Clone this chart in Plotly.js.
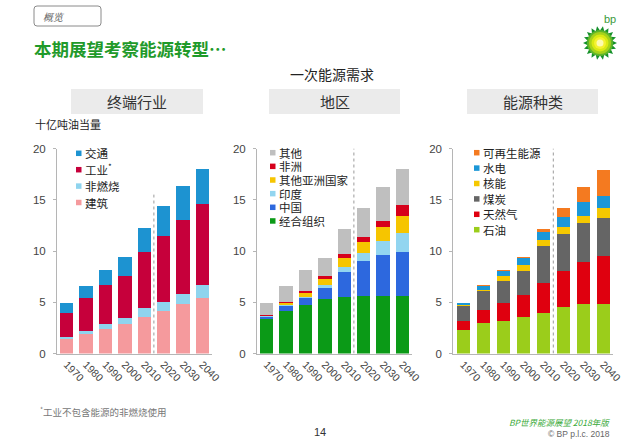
<!DOCTYPE html>
<html><head><meta charset="utf-8">
<script src="https://cdn.plot.ly/plotly-3.0.1.min.js"></script>
<style>html,body{margin:0;padding:0;background:#fff;}#chart{width:640px;height:443px;}</style>
</head><body><div id="chart"></div>
<script>
// ---------- data ----------
const years = ['1970','1980','1990','2000','2010','2020','2030','2040'];
const yTicks = [0,5,10,15,20];

// 终端行业 (bottom -> top)
const sectorNames = ['建筑','非燃烧','工业<sup>*</sup>','交通'];
const buildings    = [1.4,1.9,2.4,2.85,3.6,4.1,4.8,5.45];
const nonCombust   = [0.2,0.3,0.5,0.6,0.8,0.95,1.05,1.25];
const industry     = [2.4,3.25,3.75,4.15,5.5,6.4,7.2,7.85];
const transport    = [0.9,1.15,1.5,1.85,2.35,2.9,3.3,3.45];

// 地区 (bottom -> top)
const regionNames = ['经合组织','中国','印度','其他亚洲国家','非洲','其他'];
const oecd         = [3.4,4.15,4.7,5.35,5.55,5.65,5.65,5.6];
const china        = [0.15,0.45,0.7,1.0,2.45,3.35,3.95,4.3];
const india        = [0.1,0.15,0.15,0.3,0.45,0.85,1.4,1.9];
const otherAsia    = [0.05,0.15,0.4,0.6,0.9,1.05,1.35,1.65];
const africa       = [0.05,0.1,0.15,0.3,0.4,0.5,0.6,1.05];
const otherRegion  = [1.2,1.55,2.0,1.8,2.35,2.8,3.25,3.5];

// 能源种类 (bottom -> top)
const fuelNames = ['石油','天然气','煤炭','核能','水电','可再生能源'];
const oil          = [2.25,2.95,3.15,3.55,4.0,4.5,4.85,4.85];
const gas          = [0.9,1.25,1.8,2.15,2.85,3.55,4.1,4.7];
const coal         = [1.5,1.85,2.1,2.35,3.6,3.6,3.8,3.7];
const nuclear      = [0.05,0.15,0.5,0.55,0.6,0.65,0.7,0.95];
const hydro        = [0.25,0.4,0.5,0.7,0.8,1.05,1.3,1.15];
const renewables   = [0.0,0.05,0.05,0.1,0.25,0.85,1.5,2.6];

// ---------- styles ----------
const W = 640, H = 443;
const px = x => x / W;
const py = y => 1 - y / H;
const CJK = "'Liberation Sans', 'Noto Sans CJK SC', sans-serif";
const CJKONLY = "'Noto Sans CJK SC', sans-serif";

const panels = [
  {names: sectorNames, series: [buildings, nonCombust, industry, transport],
   colors: ['#f59a9d','#8fd4ee','#c6003b','#1d93d1'],
   x: [57, 212], ax: '', gap: 0.31, divTop: 15.5,
   legX: 76, legY: 153.3, legStep: 16.4},
  {names: regionNames, series: [oecd, china, india, otherAsia, africa, otherRegion],
   colors: ['#0b9a17','#2d68de','#92d5f0','#f6c500','#d6001b','#bfbfbf'],
   x: [257, 412], ax: '2', gap: 0.31, divTop: 20,
   legX: 270, legY: 152.7, legStep: 13.65},
  {names: fuelNames, series: [oil, gas, coal, nuclear, hydro, renewables],
   colors: ['#9bcd1b','#df000f','#656565','#f5c800','#1b97d7','#f47a20'],
   x: [453.3, 613.3], ax: '3', gap: 0.335, divTop: 20,
   legX: 474, legY: 152.7, legStep: 15.4}
];

const yDomain = [py(353.5), py(148.5)];
const traces = [];
const shapes = [];
const annotations = [];
const layout = {
  width: W, height: H, margin: {l:0, r:0, t:0, b:0},
  paper_bgcolor: '#ffffff', plot_bgcolor: 'rgba(0,0,0,0)',
  barmode: 'stack', showlegend: false,
  font: {family: CJK, color: '#333'}
};

panels.forEach(p => {
  const xa = 'x' + p.ax, ya = 'y' + p.ax;
  p.series.forEach((vals, i) => {
    traces.push({type: 'bar', x: years, y: vals, name: p.names[i],
      xaxis: xa, yaxis: ya, width: 1 - p.gap,
      marker: {color: p.colors[i], line: {width: 0}},
      hoverinfo: 'x+y+name'});
  });
  layout['xaxis' + p.ax] = {
    domain: [px(p.x[0]), px(p.x[1])], anchor: ya, type: 'category',
    range: [-0.5, 7.5], showline: true, linecolor: '#b5b5b5', linewidth: 1,
    ticks: '', tickangle: 45, showgrid: false, zeroline: false,
    tickfont: {family: 'Liberation Sans, Arial, sans-serif', size: 10.5, color: '#444'}
  };
  layout['yaxis' + p.ax] = {
    domain: yDomain, anchor: xa, range: [0, 20], tickvals: yTicks,
    showline: true, linecolor: '#b5b5b5', linewidth: 1,
    ticks: 'outside', ticklen: 3, tickcolor: '#b5b5b5',
    showgrid: false, zeroline: false, ticklabelstandoff: 5,
    tickfont: {family: 'Liberation Sans, Arial, sans-serif', size: 11.5, color: '#444'}
  };
  // history / outlook divider
  shapes.push({type: 'line', xref: xa, yref: ya, x0: 4.5, x1: 4.5, y0: 0, y1: p.divTop,
    line: {color: '#9a9a9a', width: 1, dash: 'dot'}});
  // legend (top entry = top of stack)
  const n = p.names.length;
  for (let k = 0; k < n; k++) {
    const i = n - 1 - k;
    const cy = p.legY + k * p.legStep;
    shapes.push({type: 'rect', xref: 'paper', yref: 'paper',
      x0: px(p.legX), x1: px(p.legX + 5.5), y0: py(cy + 2.75), y1: py(cy - 2.75),
      fillcolor: p.colors[i], line: {width: 0}});
    annotations.push({xref: 'paper', yref: 'paper', x: px(p.legX + 7.5), y: py(cy),
      xanchor: 'left', yanchor: 'middle', showarrow: false, text: p.names[i], borderpad: 0,
      font: {family: CJKONLY, size: 11.5, color: '#222'}});
  }
});

// ---------- page decorations ----------
// "概览" tab box (rounded)
(function(){
  const x0=34,x1=101,y0=6,y1=26,r=3;
  const P=(x,y)=>px(x)+','+py(y);
  shapes.push({type:'path', xref:'paper', yref:'paper',
    path:'M'+P(x0+r,y0)+' L'+P(x1-r,y0)+' Q'+P(x1,y0)+' '+P(x1,y0+r)+' L'+P(x1,y1-r)+' Q'+P(x1,y1)+' '+P(x1-r,y1)+
         ' L'+P(x0+r,y1)+' Q'+P(x0,y1)+' '+P(x0,y1-r)+' L'+P(x0,y0+r)+' Q'+P(x0,y0)+' '+P(x0+r,y0)+' Z',
    line:{color:'#8a8a8a', width:1}, fillcolor:'rgba(0,0,0,0)'});
})();
annotations.push({xref:'paper', yref:'paper', x:px(41), y:py(16), xanchor:'left', yanchor:'middle',
  showarrow:false, text:'<i>概览</i>', font:{family:CJKONLY, size:10, color:'#666'}});

// main title
annotations.push({xref:'paper', yref:'paper', x:px(32), y:py(48.5), xanchor:'left', yanchor:'middle',
  showarrow:false, text:'<b>本期展望考察能源转型…</b>',
  font:{family:CJKONLY, size:17.5, color:'#1f9a2a'}});

// section title
annotations.push({xref:'paper', yref:'paper', x:px(332), y:py(74), xanchor:'center', yanchor:'middle',
  showarrow:false, text:'一次能源需求', font:{family:CJKONLY, size:14, color:'#222'}});

// panel header boxes
const headers = [['终端行业', 71, 203], ['地区', 269, 400], ['能源种类', 467, 598]];
headers.forEach(h => {
  shapes.push({type:'rect', xref:'paper', yref:'paper', x0:px(h[1]), x1:px(h[2]), y0:py(114), y1:py(89),
    fillcolor:'#ebebeb', line:{width:0}, layer:'below'});
  annotations.push({xref:'paper', yref:'paper', x:px((h[1]+h[2])/2), y:py(101.5), xanchor:'center', yanchor:'middle',
    showarrow:false, text:h[0], font:{family:CJKONLY, size:15, color:'#333'}});
});

// unit label
annotations.push({xref:'paper', yref:'paper', x:px(33), y:py(124), xanchor:'left', yanchor:'middle',
  showarrow:false, text:'十亿吨油当量', font:{family:CJKONLY, size:11, color:'#222'}});

// footnote & footer
annotations.push({xref:'paper', yref:'paper', x:px(38), y:py(411), xanchor:'left', yanchor:'middle',
  showarrow:false, text:'<sup>*</sup>工业不包含能源的非燃烧使用', font:{family:CJKONLY, size:9.5, color:'#777'}});
annotations.push({xref:'paper', yref:'paper', x:px(320), y:py(432), xanchor:'center', yanchor:'middle',
  showarrow:false, text:'14', font:{family:'Liberation Sans, Arial, sans-serif', size:11, color:'#333'}});
annotations.push({xref:'paper', yref:'paper', x:px(612), y:py(421.5), xanchor:'right', yanchor:'middle',
  showarrow:false, text:'<i>BP世界能源展望 2018年版</i>', font:{family:CJKONLY, size:8.5, color:'#3aaa3a'}});
annotations.push({xref:'paper', yref:'paper', x:px(612), y:py(434), xanchor:'right', yanchor:'middle',
  showarrow:false, text:'© BP p.l.c. 2018', font:{family:'Liberation Sans, Arial, sans-serif', size:8.5, color:'#666'}});

// bp helios logo
(function(){
  const cx=600, cy=43;
  let d='';
  const N=18;
  for(let k=0;k<2*N;k++){
    const a = Math.PI*k/N;
    const r = (k%2===0)?17:12.5;
    const X = cx + r*Math.cos(a), Y = cy + r*Math.sin(a);
    d += (k===0?'M':' L') + px(X) + ',' + py(Y);
  }
  d += ' Z';
  shapes.push({type:'path', xref:'paper', yref:'paper', path:d, fillcolor:'#14902a', line:{width:0}});
  const rings = [[13,'#5fb52a'],[11,'#a6d21a'],[8.5,'#d9ea12'],[6,'#f5f230'],[3.5,'#fdfbb0']];
  rings.forEach(rg => {
    shapes.push({type:'circle', xref:'paper', yref:'paper', x0:px(cx-rg[0]), x1:px(cx+rg[0]),
      y0:py(cy+rg[0]), y1:py(cy-rg[0]), fillcolor:rg[1], line:{width:0}});
  });
})();
annotations.push({xref:'paper', yref:'paper', x:px(610), y:py(19), xanchor:'center', yanchor:'middle',
  showarrow:false, text:'bp', font:{family:'Liberation Sans, Arial, sans-serif', size:11, color:'#3a9a3a'}});

layout.shapes = shapes;
layout.annotations = annotations;

Plotly.newPlot('chart', traces, layout, {displayModeBar:false, staticPlot:true});
</script>
</body></html>
